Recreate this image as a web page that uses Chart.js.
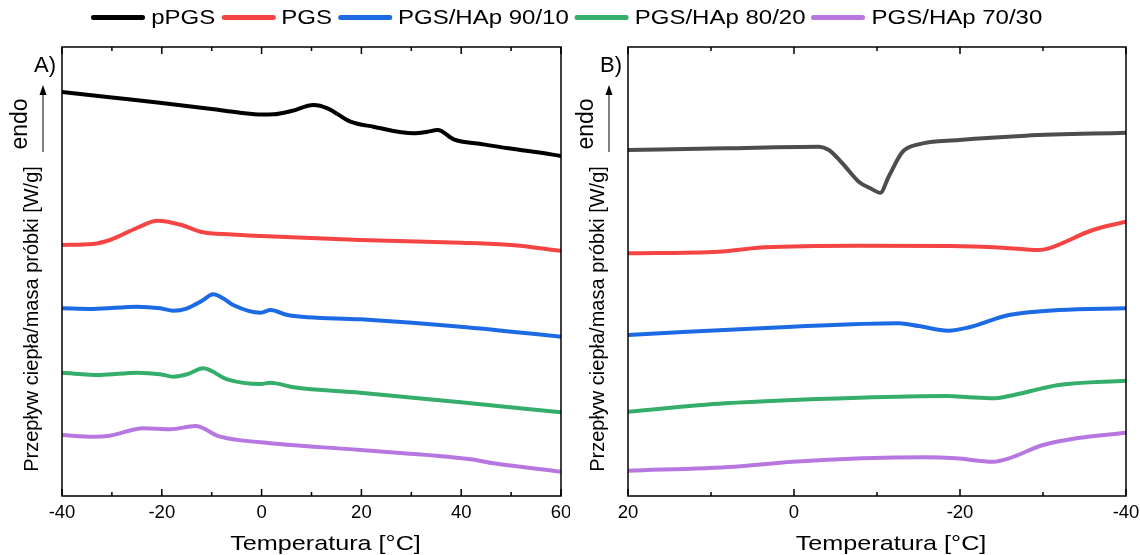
<!DOCTYPE html>
<html>
<head>
<meta charset="utf-8">
<script src="https://cdn.jsdelivr.net/npm/chart.js@4.4.1/dist/chart.umd.min.js"></script>
<style>
  body { margin: 0; width: 1140px; height: 555px; background: #fff; position: relative; overflow: hidden;
         font-family: "Liberation Sans", Arial, sans-serif; }
  canvas { position: absolute; top: 0; }
  #legend { position: absolute; top: 6px; left: 0; width: 1140px; display: flex; justify-content: center;
            align-items: center; font-size: 20px; color: #000; z-index: 2;
            transform: scaleX(1.2); transform-origin: 571px 0; }
  .item { display: flex; align-items: center; margin-right: 5px; }
  .sw { width: 45px; height: 5px; border-radius: 2px; margin-right: 5px; }
</style>
</head>
<body>
<div id="legend"></div>
<canvas id="chartA" width="570" height="555" style="left:0"></canvas>
<canvas id="chartB" width="570" height="555" style="left:570px"></canvas>
<script>
// series names and colours
const names = ["pPGS", "PGS", "PGS/HAp 90/10", "PGS/HAp 80/20", "PGS/HAp 70/30"];
const colors = ["#000000", "#f54444", "#1c6ae4", "#35ad6b", "#b777e0"];
const colorB_pPGS = "#4d4d4d";

// panel A (heating, -40..60 °C) - temperature / heat flow (arb. units)
const tA_pPGS = [-40, -30, -20, -10, -4.3, 0, 2.4, 6, 10.4, 13.2, 17.8, 22.4, 30.5, 33, 35.3, 38.5, 44, 49.4, 55, 60];
const yA_pPGS = [40.4, 39.85, 39.3, 38.7, 38.33, 38.15, 38.17, 38.5, 39.1, 38.77, 37.43, 36.93, 36.27, 36.4, 36.6, 35.67, 35.2, 34.77, 34.4, 34.0];
const tA_PGS = [-40, -33.8, -30.4, -25, -20.9, -16, -12.3, -6, -0.2, 19.8, 39.9, 50, 60];
const yA_PGS = [25.1, 25.2, 25.6, 26.8, 27.53, 27.1, 26.43, 26.15, 26.0, 25.6, 25.33, 25.1, 24.53];
const tA_90 = [-40, -33.8, -25, -20.3, -17.7, -14.9, -12, -9.7, -7.5, -5.7, -0.2, 1.8, 5.2, 19.8, 39.9, 60];
const yA_90 = [18.77, 18.7, 18.93, 18.77, 18.53, 18.77, 19.5, 20.17, 19.7, 19.1, 18.33, 18.6, 18.1, 17.67, 16.93, 15.93];
const tA_80 = [-40, -32.4, -25, -20.3, -17.7, -14.9, -11.7, -6.9, -0.2, 1.8, 6.4, 19.8, 39.9, 60];
const yA_80 = [12.33, 12.1, 12.33, 12.17, 11.93, 12.17, 12.77, 11.67, 11.2, 11.33, 10.87, 10.33, 9.37, 8.37];
const tA_70 = [-40, -33.8, -30.4, -23.7, -18.3, -13.3, -8.3, -0.2, 19.8, 41.9, 46.5, 60];
const yA_70 = [6.1, 5.93, 6.03, 6.77, 6.67, 7.0, 5.93, 5.37, 4.6, 3.67, 3.27, 2.43];

// panel B (cooling, 20..-40 °C)
const tB_pPGS = [20, 8.3, -3, -4.2, -5.8, -7.8, -9.2, -10.4, -11.4, -13.1, -15, -19.9, -27.9, -40];
const yB_pPGS = [34.6, 34.77, 34.93, 34.6, 33.3, 31.43, 30.77, 30.33, 31.93, 34.43, 35.17, 35.6, 36.03, 36.33];
const tB_PGS = [20, 9.1, 3.5, -7.8, -18.6, -25.2, -29.5, -30.7, -36, -40];
const yB_PGS = [24.27, 24.43, 24.87, 25.03, 25.0, 24.83, 24.6, 24.77, 26.6, 27.43];
const tB_90 = [20, 0.2, -12.6, -15, -18.6, -21.1, -25.9, -31.9, -40];
const yB_90 = [16.1, 16.93, 17.27, 17.0, 16.53, 16.87, 18.1, 18.6, 18.77];
const tB_80 = [20, 8.3, -7.8, -18.6, -21.1, -24, -25.9, -31.9, -40];
const yB_80 = [8.43, 9.27, 9.83, 10.0, 9.87, 9.77, 10.0, 11.1, 11.53];
const tB_70 = [20, 7.1, 0.2, -15.9, -19.5, -24, -25.9, -30, -34, -40];
const yB_70 = [2.53, 2.93, 3.43, 3.87, 3.77, 3.43, 3.77, 5.1, 5.77, 6.33];

const FONT = '"Liberation Sans", Arial, sans-serif';

// legend (html)
const legend = document.getElementById("legend");
names.forEach((n, i) => {
    const it = document.createElement("div");
    it.className = "item";
    it.innerHTML = '<div class="sw" style="background:' + colors[i] + '"></div><span>' + n + '</span>';
    legend.appendChild(it);
});

const pts = (t, y) => t.map((v, i) => ({ x: v, y: y[i] }));

// frame, inner ticks, panel label, endo arrow, axis titles
const decor = {
    id: "decor",
    afterDraw(chart, args, opts) {
        const { ctx, chartArea: a, scales: { x } } = chart;
        ctx.save();
        ctx.strokeStyle = "#000";
        ctx.lineWidth = 1.5;
        ctx.strokeRect(a.left, a.top, a.right - a.left, a.bottom - a.top);
        x.ticks.forEach(t => {
            const px = x.getPixelForValue(t.value);
            const len = t.value % 20 === 0 ? 7 : 4;
            ctx.beginPath();
            ctx.moveTo(px, a.bottom); ctx.lineTo(px, a.bottom - len);
            ctx.moveTo(px, a.top); ctx.lineTo(px, a.top + len);
            ctx.stroke();
        });
        ctx.fillStyle = "#000";
        ctx.textBaseline = "middle";

        // panel label
        ctx.font = "22px " + FONT;
        ctx.textAlign = "right";
        ctx.fillText(opts.label, a.left - 6, 66);

        // x title (slightly wide, like the original)
        ctx.save();
        ctx.translate((a.left + a.right) / 2 + 14, 544);
        ctx.scale(1.2, 1);
        ctx.font = "21px " + FONT;
        ctx.textAlign = "center";
        ctx.fillText("Temperatura [°C]", 0, 0);
        ctx.restore();

        ctx.save();
        ctx.translate(a.left - 41, 124);
        ctx.rotate(-Math.PI / 2);
        ctx.font = "23px " + FONT;
        ctx.textAlign = "center";
        ctx.fillText("endo", 0, 0);
        ctx.restore();

        // arrow
        const ax = a.left - 19;
        ctx.lineWidth = 1;
        ctx.beginPath();
        ctx.moveTo(ax, 152); ctx.lineTo(ax, 92);
        ctx.stroke();
        ctx.beginPath();
        ctx.moveTo(ax, 85); ctx.lineTo(ax - 3.5, 95); ctx.lineTo(ax + 3.5, 95);
        ctx.closePath();
        ctx.fill();

        ctx.save();
        ctx.translate(a.left - 30, 319);
        ctx.rotate(-Math.PI / 2);
        ctx.font = "20px " + FONT;
        ctx.textAlign = "center";
        ctx.fillText("Przepływ ciepła/masa próbki [W/g]", 0, 0);
        ctx.restore();
        ctx.restore();
    }
};

function makeChart(id, sets, xmin, xmax, reverse, yW, padR, label) {
    return new Chart(document.getElementById(id).getContext("2d"), {
        type: "line",
        data: {
            datasets: sets.map(s => ({
                data: s.data,
                borderColor: s.color,
                borderWidth: 4,
                pointRadius: 0,
                fill: false,
                cubicInterpolationMode: "monotone",
            })),
        },
        options: {
            responsive: false,
            animation: false,
            layout: { padding: { top: 47, right: padR, left: 0, bottom: 0 } },
            plugins: { legend: { display: false }, tooltip: { enabled: false }, decor: { label: label } },
            scales: {
                x: {
                    type: "linear", min: xmin, max: xmax, reverse: reverse,
                    grid: { display: false, drawTicks: false },
                    border: { display: false },
                    ticks: {
                        stepSize: 10, autoSkip: false, maxRotation: 0, padding: 6,
                        color: "#000", font: { family: FONT, size: 18.5 },
                        callback: v => (v % 20 === 0 ? String(v) : ""),
                    },
                    afterFit: s => { s.height = 59; s.paddingLeft = 0; s.paddingRight = 0; },
                },
                y: {
                    min: 0, max: 44.9,
                    grid: { display: false, drawTicks: false },
                    border: { display: false },
                    ticks: { display: false },
                    afterFit: s => { s.width = yW; },
                },
            },
        },
        plugins: [decor],
    });
}

makeChart("chartA", [
    { data: pts(tA_pPGS, yA_pPGS), color: colors[0] },
    { data: pts(tA_PGS, yA_PGS), color: colors[1] },
    { data: pts(tA_90, yA_90), color: colors[2] },
    { data: pts(tA_80, yA_80), color: colors[3] },
    { data: pts(tA_70, yA_70), color: colors[4] },
], -40, 60, false, 62, 9, "A)");

makeChart("chartB", [
    { data: pts(tB_pPGS, yB_pPGS), color: colorB_pPGS },
    { data: pts(tB_PGS, yB_PGS), color: colors[1] },
    { data: pts(tB_90, yB_90), color: colors[2] },
    { data: pts(tB_80, yB_80), color: colors[3] },
    { data: pts(tB_70, yB_70), color: colors[4] },
], -40, 20, true, 58, 14, "B)");
</script>
</body>
</html>
